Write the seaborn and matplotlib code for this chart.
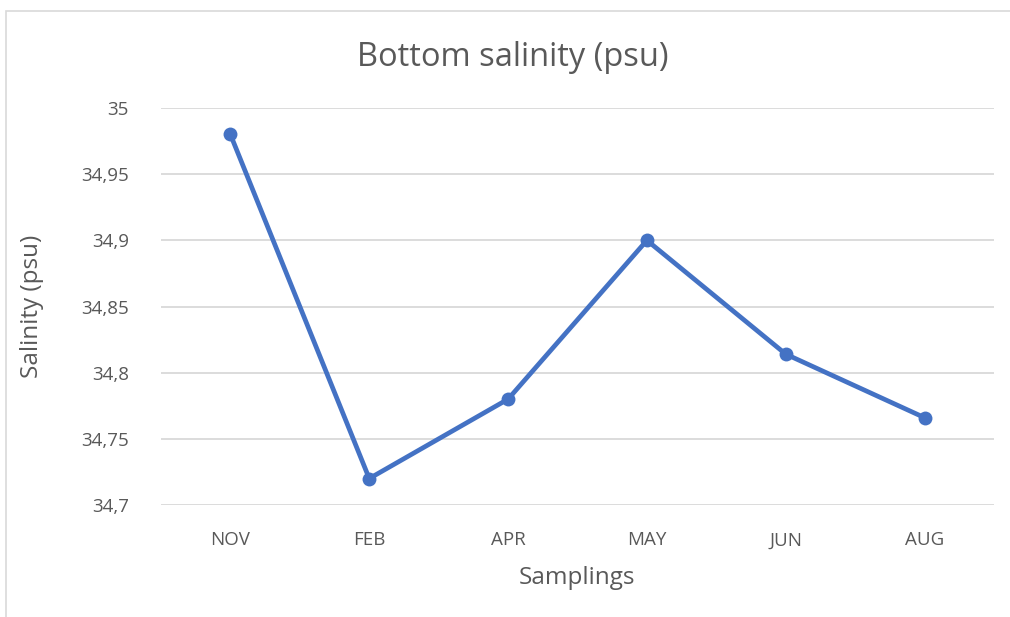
import matplotlib
matplotlib.use("Agg")
import matplotlib.pyplot as plt
import seaborn as sns
import pandas as pd
from matplotlib.ticker import FuncFormatter
from matplotlib.patches import Rectangle

samplings = ["NOV", "FEB", "APR", "MAY", "JUN", "AUG"]
salinity = [34.98, 34.72, 34.78, 34.90, 34.814, 34.766]
y_ticks = [34.7, 34.75, 34.8, 34.85, 34.9, 34.95, 35.0]

df = pd.DataFrame({"sampling": samplings, "salinity": salinity})

sns.set_style("white")
plt.rcParams["font.family"] = ["Open Sans", "DejaVu Sans"]
text_color = "#595959"

fig = plt.figure(figsize=(10.1, 6.17), dpi=100)
ax = fig.add_axes([161 / 1010, 112 / 617, 833 / 1010, 397 / 617])

# outer chart border like the Excel frame
fig.patches.append(Rectangle((6 / 1010, -0.05), 1.1, 1 - 11 / 617 + 0.05,
                             transform=fig.transFigure, fill=False,
                             edgecolor="#d9d9d9", linewidth=1.2))

sns.lineplot(data=df, x="sampling", y="salinity", ax=ax, color="#4472C4",
             linewidth=3.4, marker="o", markersize=10, markeredgewidth=0,
             sort=False)

ax.set_xlim(-0.5, len(samplings) - 0.5)
ax.set_ylim(34.7, 35.0)
ax.set_yticks(y_ticks)
ax.yaxis.set_major_formatter(FuncFormatter(lambda v, p: f"{v:g}".replace(".", ",")))
ax.grid(axis="y", color="#d9d9d9", linewidth=1.3)
ax.set_axisbelow(True)
for s in ax.spines.values():
    s.set_visible(False)
ax.tick_params(axis="both", length=0, labelsize=13.5, colors=text_color)
ax.tick_params(axis="y", pad=23)
ax.tick_params(axis="x", pad=19)

ax.set_xlabel("Samplings", fontsize=17.5, color=text_color, labelpad=12)
ax.set_ylabel("Salinity (psu)", fontsize=17.5, color=text_color, labelpad=27)
fig.text(0.508, 1 - 57 / 617, "Bottom salinity (psu)", fontsize=23.5,
         color=text_color, ha="center", va="center")

fig.savefig("out.png", dpi=100)
